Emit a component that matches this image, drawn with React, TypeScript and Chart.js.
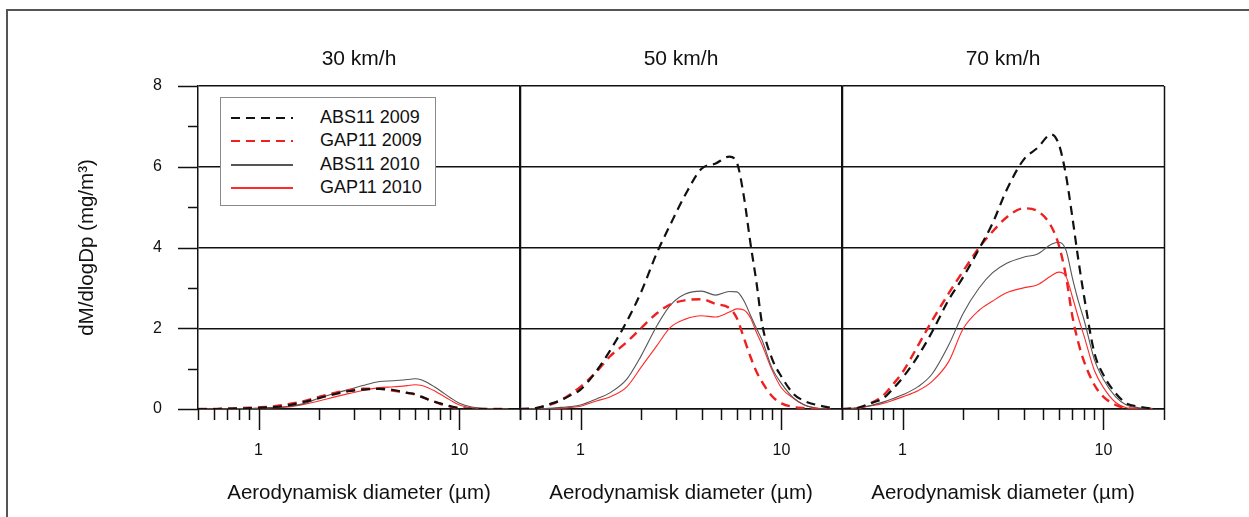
import React, { useEffect, useRef } from "react";
import { Chart, registerables } from "chart.js";

Chart.register(...registerables);

// ---------- data ----------
const diameters = [0.5, 0.6, 0.7, 0.8, 0.9, 1.0, 1.2, 1.4, 1.7, 2.0, 2.4, 2.8, 3.3, 4.0, 4.7, 5.5, 6.0, 6.5, 7.0, 7.5, 8.0, 9.0, 10, 11.5, 13, 15, 17.5];

const panelTitles = ["30 km/h", "50 km/h", "70 km/h"];
const seriesLabels = ["ABS11 2009", "GAP11 2009", "ABS11 2010", "GAP11 2010"];

// 30 km/h
const abs2009_30 = [0, 0, 0.01, 0.01, 0.02, 0.03, 0.05, 0.09, 0.18, 0.27, 0.37, 0.44, 0.48, 0.5, 0.47, 0.4, 0.37, 0.3, 0.23, 0.18, 0.14, 0.07, 0.02, 0, 0, 0, 0];
const gap2009_30 = [0, 0, 0.01, 0.02, 0.03, 0.04, 0.07, 0.12, 0.2, 0.3, 0.4, 0.46, 0.5, 0.5, 0.45, 0.4, 0.36, 0.3, 0.24, 0.18, 0.13, 0.06, 0.02, 0, 0, 0, 0];
const abs2010_30 = [0, 0, 0, 0.01, 0.01, 0.02, 0.04, 0.06, 0.14, 0.27, 0.39, 0.48, 0.58, 0.68, 0.7, 0.73, 0.75, 0.72, 0.64, 0.55, 0.46, 0.28, 0.14, 0.05, 0.02, 0, 0];
const gap2010_30 = [0, 0, 0, 0.01, 0.01, 0.02, 0.03, 0.05, 0.12, 0.2, 0.3, 0.38, 0.46, 0.53, 0.55, 0.58, 0.6, 0.58, 0.52, 0.45, 0.37, 0.22, 0.1, 0.03, 0.01, 0, 0];

// 50 km/h
const abs2009_50 = [0, 0.02, 0.12, 0.22, 0.35, 0.48, 0.94, 1.44, 2.17, 2.89, 3.87, 4.57, 5.28, 5.95, 6.08, 6.25, 6.1, 5.26, 4.12, 3.15, 2.12, 1.23, 0.8, 0.37, 0.2, 0.1, 0.03];
const gap2009_50 = [0, 0.02, 0.1, 0.22, 0.38, 0.55, 0.92, 1.3, 1.66, 2.0, 2.37, 2.59, 2.69, 2.72, 2.6, 2.5, 2.25, 1.76, 1.3, 0.93, 0.67, 0.31, 0.14, 0.05, 0.02, 0, 0];
const abs2010_50 = [0, 0.01, 0.02, 0.04, 0.06, 0.1, 0.25, 0.4, 0.74, 1.31, 2.06, 2.57, 2.84, 2.92, 2.82, 2.91, 2.9, 2.68, 2.33, 2.0, 1.71, 1.0, 0.63, 0.27, 0.1, 0.02, 0];
const gap2010_50 = [0, 0, 0.01, 0.02, 0.04, 0.07, 0.2, 0.3, 0.55, 1.03, 1.57, 2.02, 2.22, 2.31, 2.28, 2.4, 2.48, 2.45, 2.26, 1.9, 1.59, 0.95, 0.52, 0.26, 0.1, 0.02, 0];

// 70 km/h
const abs2009_70 = [0, 0.03, 0.15, 0.26, 0.51, 0.77, 1.33, 1.9, 2.71, 3.26, 3.96, 4.59, 5.43, 6.17, 6.47, 6.8, 6.55, 5.8, 4.75, 3.69, 2.8, 1.4, 0.84, 0.39, 0.14, 0.06, 0.01];
const gap2009_70 = [0, 0.02, 0.15, 0.33, 0.62, 0.91, 1.59, 2.18, 2.87, 3.41, 3.99, 4.39, 4.75, 4.97, 4.9, 4.52, 4.05, 3.3, 2.3, 1.64, 1.18, 0.6, 0.3, 0.1, 0.02, 0, 0];
const abs2010_70 = [0, 0.03, 0.09, 0.17, 0.26, 0.35, 0.56, 0.86, 1.59, 2.36, 2.99, 3.37, 3.61, 3.76, 3.84, 4.08, 4.13, 3.94, 3.25, 2.67, 2.21, 1.23, 0.73, 0.3, 0.1, 0.03, 0];
const gap2010_70 = [0, 0.03, 0.08, 0.14, 0.22, 0.3, 0.46, 0.68, 1.18, 1.98, 2.44, 2.67, 2.88, 3.0, 3.08, 3.3, 3.39, 3.29, 2.78, 2.26, 1.81, 0.96, 0.53, 0.16, 0.03, 0, 0];

const panelSeries = [
  [abs2009_30, gap2009_30, abs2010_30, gap2010_30],
  [abs2009_50, gap2009_50, abs2010_50, gap2010_50],
  [abs2009_70, gap2009_70, abs2010_70, gap2010_70],
];

// ticks
const xMajorTicks = [1, 10];
const xMinorTicks = [0.5, 0.6, 0.7, 0.8, 0.9, 2, 3, 4, 5, 6, 7, 8, 9, 20];
const yMajorTicks = [0, 2, 4, 6, 8];
const yMinorTicks = [1, 3, 5, 7];

const yTitle = "dM/dlogDp (mg/m³)";
const xTitle = "Aerodynamisk diameter (µm)";

// ---------- styles ----------
const FONT = "'Liberation Sans', Arial, Helvetica, sans-serif";
const INK = "#111111";
const seriesColors = ["#111111", "#ee2020", "#555555", "#ff2a2a"];
const seriesWidths = [2.2, 2.4, 1.1, 1.1];
const seriesDash: number[][] = [[9, 6], [9, 6], [], []];

const W = 1249;
const H = 517;
const panelLefts = [198, 520, 842];
const panelRights = [520, 842, 1164];
const plotBottom = 409;

const tickMarksPlugin = {
  id: "tickMarks",
  afterDraw(chart: any, _args: any, opts: any) {
    const { ctx, chartArea, scales } = chart;
    const xs = scales.x;
    const ys = scales.y;
    ctx.save();
    ctx.strokeStyle = INK;
    ctx.lineWidth = 1.5;
    const seg = (x1: number, y1: number, x2: number, y2: number) => {
      ctx.beginPath();
      ctx.moveTo(x1, y1);
      ctx.lineTo(x2, y2);
      ctx.stroke();
    };
    const b = Math.round(chartArea.bottom);
    for (const v of xMinorTicks) {
      const px = Math.round(xs.getPixelForValue(v)) + 0.5;
      seg(px, b, px, b + 11);
    }
    for (const v of xMajorTicks) {
      const px = Math.round(xs.getPixelForValue(v)) + 0.5;
      seg(px, b, px, b + 21);
    }
    if (opts && opts.yTicks) {
      const l = chartArea.left;
      for (const v of yMajorTicks) {
        const py = Math.round(ys.getPixelForValue(v)) + 0.5;
        seg(l - 20, py, l, py);
      }
      for (const v of yMinorTicks) {
        const py = Math.round(ys.getPixelForValue(v)) + 0.5;
        seg(l - 10, py, l, py);
      }
    }
    // right border of the panel
    const r = Math.round(chartArea.right) + 0.5;
    seg(r, chartArea.top, r, chartArea.bottom);
    ctx.restore();
  },
};

function makeConfig(idx: number): any {
  const isFirst = idx === 0;
  const series = panelSeries[idx];
  return {
    type: "line",
    data: {
      datasets: series.map((arr, s) => ({
        label: seriesLabels[s],
        data: diameters.map((d, i) => ({ x: d, y: arr[i] })),
        borderColor: seriesColors[s],
        backgroundColor: seriesColors[s],
        borderWidth: seriesWidths[s],
        borderDash: seriesDash[s],
        pointRadius: 0,
        fill: false,
        cubicInterpolationMode: "monotone",
        order: s < 2 ? 0 : 1,
      })),
    },
    options: {
      responsive: false,
      animation: false,
      devicePixelRatio: 1,
      events: [],
      layout: {
        padding: {
          left: isFirst ? 0 : panelLefts[idx],
          right: W - panelRights[idx],
          top: 0,
          bottom: 0,
        },
      },
      plugins: {
        legend: { display: false },
        tooltip: { enabled: false },
        title: {
          display: true,
          text: panelTitles[idx],
          fullSize: false,
          color: INK,
          font: { family: FONT, size: 21, weight: "normal" },
          padding: { top: 47, bottom: 13.8 },
        },
        tickMarks: { yTicks: isFirst },
      },
      scales: {
        x: {
          type: "logarithmic",
          min: 0.5,
          max: 20,
          afterBuildTicks: (s: any) => {
            s.ticks = [...xMinorTicks, ...xMajorTicks].sort((a, b) => a - b).map((v) => ({ value: v }));
          },
          afterFit: (s: any) => {
            s.height = H - plotBottom;
          },
          grid: { display: false, drawTicks: false },
          border: { display: true, color: INK, width: 1.5 },
          ticks: {
            autoSkip: false,
            maxRotation: 0,
            minRotation: 0,
            padding: 32,
            color: INK,
            font: { family: FONT, size: 16 },
            callback: (v: any) => (xMajorTicks.includes(Number(v)) ? String(v) : ""),
          },
          title: {
            display: true,
            text: xTitle,
            color: INK,
            font: { family: FONT, size: 20.5 },
            padding: { top: 0, bottom: 11 },
          },
        },
        y: {
          min: 0,
          max: 8,
          afterFit: (s: any) => {
            s.width = isFirst ? panelLefts[0] : 0;
          },
          grid: { color: INK, lineWidth: 1.5, drawTicks: false },
          border: { display: true, color: INK, width: 1.5 },
          ticks: {
            display: isFirst,
            stepSize: 2,
            padding: 36,
            color: INK,
            font: { family: FONT, size: 16 },
          },
          title: {
            display: isFirst,
            text: yTitle,
            color: INK,
            font: { family: FONT, size: 20.5 },
            padding: { top: 75, bottom: 0 },
          },
        },
      },
    },
    plugins: [tickMarksPlugin],
  };
}

function Panel({ idx }: { idx: number }) {
  const ref = useRef<HTMLCanvasElement | null>(null);
  useEffect(() => {
    if (!ref.current) return;
    const chart = new Chart(ref.current, makeConfig(idx));
    return () => chart.destroy();
  }, [idx]);
  return (
    <canvas
      ref={ref}
      width={W}
      height={H}
      style={{ position: "absolute", left: 0, top: 0, width: W, height: H }}
    />
  );
}

function Legend() {
  return (
    <div
      style={{
        position: "absolute",
        left: 220,
        top: 97,
        width: 214,
        height: 107,
        border: "1px solid #8a8a8a",
        background: "#ffffff",
      }}
    >
      {seriesLabels.map((lab, i) => {
        const dashed = seriesDash[i].length > 0;
        return (
          <div key={lab} style={{ position: "absolute", left: 0, top: 8 + i * 23.4, width: 214, height: 23 }}>
            {dashed ? (
              <svg width={80} height={23} style={{ position: "absolute", left: 0, top: 0 }}>
                <line
                  x1={10}
                  x2={72}
                  y1={12}
                  y2={12}
                  stroke={seriesColors[i]}
                  strokeWidth={2}
                  strokeDasharray={seriesDash[i].join(" ")}
                />
              </svg>
            ) : (
              <div
                style={{
                  position: "absolute",
                  left: 10,
                  top: 11,
                  width: 62,
                  height: 2,
                  backgroundColor: seriesColors[i],
                }}
              />
            )}
            <span
              style={{
                position: "absolute",
                left: 99,
                top: 0,
                lineHeight: "23px",
                fontSize: 18,
                color: INK,
                fontFamily: FONT,
                whiteSpace: "nowrap",
              }}
            >
              {lab}
            </span>
          </div>
        );
      })}
    </div>
  );
}

export default function App() {
  return (
    <div
      style={{
        position: "fixed",
        left: 0,
        top: 0,
        width: W,
        height: H,
        background: "#ffffff",
        overflow: "hidden",
        fontFamily: FONT,
      }}
    >
      <div
        style={{
          position: "absolute",
          left: 6,
          top: 9,
          width: W + 50,
          height: H + 50,
          borderTop: "2px solid #555555",
          borderLeft: "2px solid #555555",
        }}
      />
      <Panel idx={0} />
      <Panel idx={1} />
      <Panel idx={2} />
      <Legend />
    </div>
  );
}
